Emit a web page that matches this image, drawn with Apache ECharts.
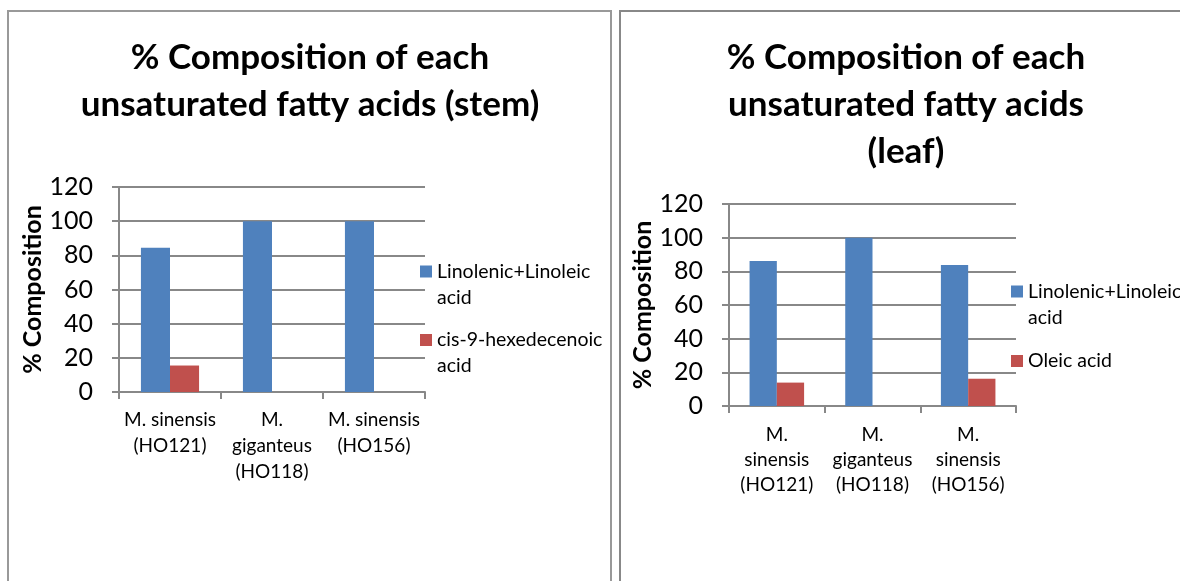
<!DOCTYPE html>
<html>
<head>
<meta charset="utf-8">
<script src="https://cdn.jsdelivr.net/npm/echarts@6/dist/echarts.min.js"></script>
<style>
html,body{margin:0;padding:0;background:#fff;}
#main{width:1180px;height:581px;}
</style>
</head>
<body>
<div id="main"></div>
<script>
// ---- data ----
const stemCategories = ["M. sinensis\n(HO121)", "M.\ngiganteus\n(HO118)", "M. sinensis\n(HO156)"];
const leafCategories = ["M.\nsinensis\n(HO121)", "M.\ngiganteus\n(HO118)", "M.\nsinensis\n(HO156)"];
const stemLinolenic = [84.5, 100, 100];
const stemCis9 = [15.5, 0, 0];
const leafLinolenic = [86.1, 100, 83.8];
const leafOleic = [13.9, 0, 16.2];
const yTicks = [0, 20, 40, 60, 80, 100, 120];
const stemTitle = "% Composition of each\nunsaturated fatty acids (stem)";
const leafTitle = "% Composition of each\nunsaturated fatty acids\n(leaf)";
const yAxisName = "% Composition";
const seriesNames = ["Linolenic+Linoleic acid", "cis-9-hexedecenoic acid", "Oleic acid"];
const legendLabels = {
  "Linolenic+Linoleic acid": "\nLinolenic+Linoleic\nacid",
  "cis-9-hexedecenoic acid": "\ncis-9-hexedecenoic\nacid",
  "Oleic acid": "Oleic acid"
};

const BLUE = "#4F81BD", RED = "#C0504D", GRID = "#888888";
const FONT = "Lato";

const chart = echarts.init(document.getElementById('main'), null, {renderer: 'canvas'});

function yAxisCfg(gridIndex) {
  return {
    gridIndex: gridIndex, type: 'value',
    min: yTicks[0], max: yTicks[yTicks.length - 1], interval: yTicks[1] - yTicks[0],
    name: yAxisName, nameLocation: 'middle', nameGap: 54,
    nameTextStyle: {fontFamily: FONT, fontWeight: 'bold', fontSize: 25, color: '#000'},
    axisLine: {show: true, lineStyle: {color: GRID, width: 2}},
    axisTick: {show: true, length: 7, lineStyle: {color: GRID, width: 2}},
    splitLine: {show: true, lineStyle: {color: GRID, width: 2}},
    axisLabel: {fontFamily: FONT, fontSize: 25, color: '#000', margin: 26}
  };
}
function xAxisCfg(gridIndex, cats, margin, lh) {
  return {
    gridIndex: gridIndex, type: 'category', data: cats,
    axisLine: {show: true, lineStyle: {color: GRID, width: 2}},
    axisTick: {show: true, length: 7, alignWithLabel: false, interval: 0, lineStyle: {color: GRID, width: 2}},
    axisLabel: {fontFamily: FONT, fontSize: 19, color: '#000', margin: margin, lineHeight: lh, interval: 0}
  };
}
function legendItem(name, left, top) {
  return {
    data: [name], orient: 'vertical', left: left, top: top, padding: 0,
    itemWidth: 12, itemHeight: 12, icon: 'rect',
    formatter: n => legendLabels[n],
    textStyle: {fontFamily: FONT, fontSize: 19.5, color: '#000', lineHeight: 26},
    selectedMode: false
  };
}

const option = {
  backgroundColor: '#fff',
  animation: false,
  title: [
    {text: stemTitle, left: 305, top: 29, textAlign: 'center',
     textStyle: {fontFamily: FONT, fontWeight: 'bold', fontSize: 35, lineHeight: 47, color: '#000'}},
    {text: leafTitle, left: 901, top: 29, textAlign: 'center',
     textStyle: {fontFamily: FONT, fontWeight: 'bold', fontSize: 35, lineHeight: 47, color: '#000'}}
  ],
  legend: [
    legendItem(seriesNames[0], 420, 232.5),
    legendItem(seriesNames[1], 420, 301),
    legendItem(seriesNames[0], 1011, 252.5),
    legendItem(seriesNames[2], 1011, 348)
  ],
  grid: [
    {left: 119, right: 755, top: 187, bottom: 189},
    {left: 729, right: 164, top: 204, bottom: 175}
  ],
  xAxis: [xAxisCfg(0, stemCategories, 15, 26), xAxisCfg(1, leafCategories, 16, 25)],
  yAxis: [yAxisCfg(0), yAxisCfg(1)],
  series: [
    {name: seriesNames[0], type: 'bar', xAxisIndex: 0, yAxisIndex: 0, data: stemLinolenic,
     itemStyle: {color: BLUE}, barGap: '0%', barCategoryGap: '43%'},
    {name: seriesNames[1], type: 'bar', xAxisIndex: 0, yAxisIndex: 0, data: stemCis9,
     itemStyle: {color: RED}, barGap: '0%', barCategoryGap: '43%'},
    {name: seriesNames[0], type: 'bar', xAxisIndex: 1, yAxisIndex: 1, data: leafLinolenic,
     itemStyle: {color: BLUE}, barGap: '0%', barCategoryGap: '43%'},
    {name: seriesNames[2], type: 'bar', xAxisIndex: 1, yAxisIndex: 1, data: leafOleic,
     itemStyle: {color: RED}, barGap: '0%', barCategoryGap: '43%'}
  ],
  graphic: [
    {type: 'rect', shape: {x: 8, y: 11, width: 603, height: 600}, style: {fill: 'none', stroke: '#999', lineWidth: 2}, silent: true},
    {type: 'rect', shape: {x: 620, y: 11, width: 600, height: 600}, style: {fill: 'none', stroke: '#888', lineWidth: 2}, silent: true}
  ]
};
chart.setOption(option);
</script>
</body>
</html>
